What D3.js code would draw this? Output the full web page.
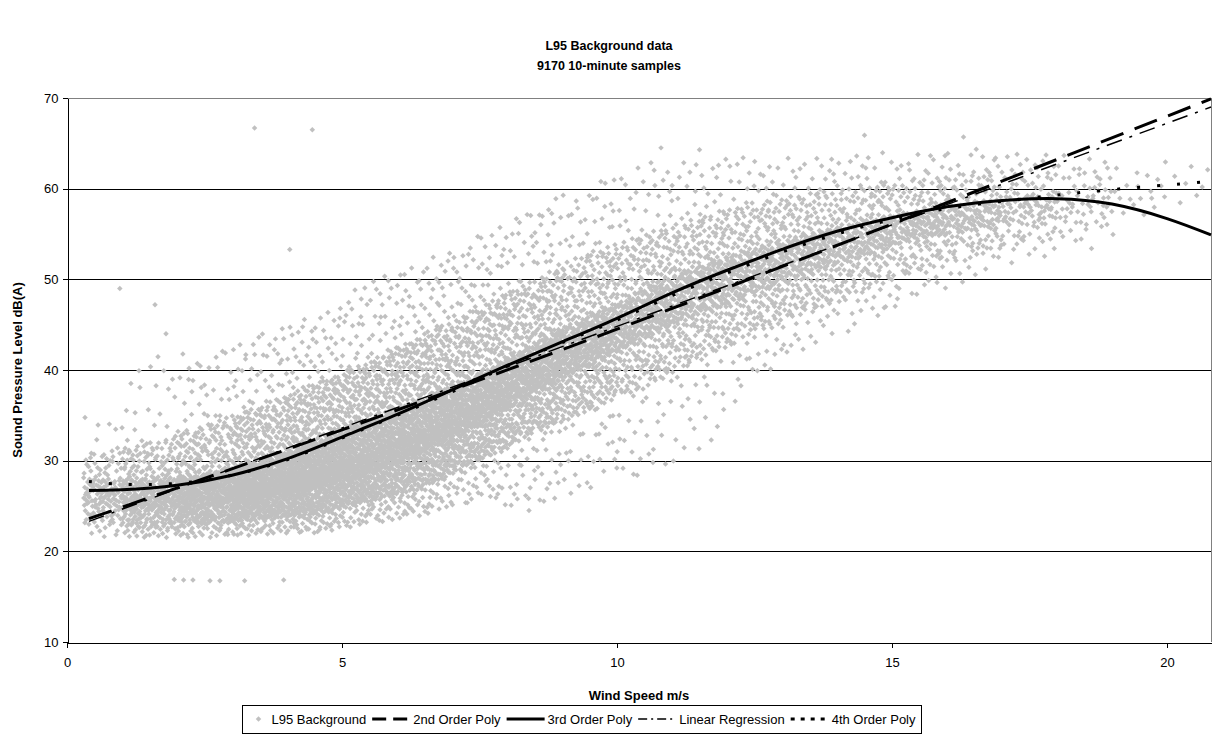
<!DOCTYPE html>
<html>
<head>
<meta charset="utf-8">
<title>L95 Background data</title>
<script src="https://cdn.jsdelivr.net/npm/d3@7"></script>
<style>
body { margin: 0; background: #fff; }
svg { font-family: "Liberation Sans", Arial, sans-serif; }
.axis path, .axis line { stroke: #000; shape-rendering: crispEdges; }
.axis text { font-size: 13px; fill: #000; }
.grid line { stroke: #000; stroke-width: 1; shape-rendering: crispEdges; }
.title { font-size: 12.5px; font-weight: bold; }
.axis-title { font-size: 13px; font-weight: bold; }
.legend text { font-size: 13px; }
</style>
</head>
<body>
<svg width="1218" height="753"></svg>
<script>

// wind speed bins (m/s) and the number of 10-minute samples in each
var binEdges = [0.3, 1, 2, 3, 4, 5, 6, 7, 8, 9, 10, 11, 12, 13, 14, 15, 16, 17, 18, 19, 20, 20.8];
var binCounts = [150, 400, 600, 800, 900, 900, 900, 850, 750, 600, 500, 450, 400, 350, 300, 250, 200, 130, 70, 20, 7];
// SPL spread per bin: min, 5%, 25%, median, 75%, 95%, max
var quantileLevels = [0, 0.05, 0.25, 0.5, 0.75, 0.95, 1];
var binQuantiles = [
  [21.5, 23.0, 25.0, 26.5, 28.0, 31.0, 36.0],
  [21.5, 22.5, 24.5, 26.0, 28.0, 32.0, 42.0],
  [21.5, 23.0, 25.0, 26.8, 28.5, 34.0, 42.0],
  [21.8, 23.5, 25.8, 27.5, 30.0, 36.0, 44.0],
  [22.0, 24.0, 27.0, 29.0, 32.0, 38.5, 46.0],
  [23.0, 25.5, 28.5, 31.0, 34.5, 41.0, 50.0],
  [24.0, 27.0, 31.0, 33.5, 37.0, 44.0, 52.0],
  [25.5, 30.0, 34.0, 36.5, 39.5, 47.0, 55.0],
  [24.5, 33.0, 37.5, 40.0, 43.0, 50.0, 58.0],
  [27.0, 35.5, 40.5, 43.0, 46.0, 53.0, 60.5],
  [28.5, 38.0, 43.5, 46.0, 49.0, 55.0, 63.0],
  [30.0, 41.0, 46.0, 49.0, 51.5, 57.0, 63.5],
  [39.0, 44.0, 48.5, 51.0, 53.5, 58.5, 63.5],
  [42.5, 46.5, 50.5, 53.0, 55.0, 59.5, 63.5],
  [45.0, 48.5, 52.5, 54.5, 56.5, 60.5, 64.0],
  [48.0, 51.0, 54.5, 56.0, 57.5, 61.0, 64.0],
  [50.0, 52.5, 55.5, 57.0, 58.5, 62.0, 64.5],
  [52.0, 54.0, 56.5, 58.0, 59.5, 62.5, 64.0],
  [53.0, 55.0, 57.0, 58.5, 60.0, 62.5, 63.5],
  [56.0, 57.0, 58.5, 59.5, 61.0, 63.0, 64.0],
  [58.0, 58.5, 59.5, 60.5, 61.5, 62.5, 63.0]
];
// isolated samples away from the cloud
var outliers = [
  [3.41, 66.7], [4.46, 66.5], [4.05, 53.3], [0.96, 49.0], [1.6, 47.2], [1.8, 44.0],
  [1.95, 16.9], [2.12, 16.85], [2.29, 16.85], [2.6, 16.75], [2.78, 16.75], [3.23, 16.75], [3.94, 16.85],
  [10.8, 64.5], [11.5, 64.3], [14.5, 65.9], [16.3, 65.7], [8.4, 24.5], [10.3, 28.5]
];

// trend lines
var trendSpeeds = [0.4, 1, 2, 3, 4, 5, 6, 7, 8, 9, 10, 11, 12, 13, 14, 15, 16, 17, 18, 19, 20, 20.8];
var poly3 = [26.7, 26.8, 27.3, 28.4, 30.2, 32.6, 35.1, 37.8, 40.5, 43.1, 45.7, 48.5, 51.0, 53.3, 55.3, 56.8, 58.0, 58.7, 58.9, 58.3, 56.7, 54.9];
var poly4 = [27.7, 27.4, 27.5, 28.4, 30.1, 32.5, 35.0, 37.6, 40.4, 43.0, 45.5, 48.2, 50.7, 53.0, 55.0, 56.6, 57.8, 58.6, 59.3, 59.9, 60.4, 60.8];
var poly2Speeds = [0.4, 5, 10, 15, 20.8];
var poly2 = [23.6, 33.4, 44.5, 56.1, 69.9];
var linearSpeeds = [0.4, 20.8];
var linear = [23.3, 69.0];

var xTicks = [0, 5, 10, 15, 20];
var yTicks = [10, 20, 30, 40, 50, 60, 70];

var svg = d3.select("svg"),
    plot = { left: 67, right: 1211, top: 98, bottom: 642 };

var x = d3.scaleLinear().domain([0, 20.8]).range([plot.left, plot.right]);
var y = d3.scaleLinear().domain([10, 70]).range([plot.bottom, plot.top]);

// gridlines
svg.append("g").attr("class", "grid")
  .selectAll("line")
  .data(yTicks.filter(function(d) { return d > 10 && d < 70; }))
  .enter().append("line")
    .attr("x1", plot.left).attr("x2", plot.right)
    .attr("y1", function(d) { return Math.round(y(d)) + 0.5; })
    .attr("y2", function(d) { return Math.round(y(d)) + 0.5; });

// plot area border (top / right)
svg.append("path")
  .attr("d", "M" + plot.left + "," + (plot.top + 0.5) + "H" + (plot.right + 0.5) + "V" + plot.bottom)
  .attr("fill", "none").attr("stroke", "#808080").attr("shape-rendering", "crispEdges");

// scatter: place samples inside each bin following the read-off spread
function halton(i, b) {
  var f = 1, r = 0;
  while (i > 0) { f /= b; r += f * (i % b); i = Math.floor(i / b); }
  return r;
}
var centers = binEdges.slice(0, -1).map(function(e, i) { return (e + binEdges[i + 1]) / 2; });
function profileAt(sp) {
  var i = d3.bisectRight(centers, sp) - 1;
  if (i < 0) return binQuantiles[0];
  if (i >= centers.length - 1) return binQuantiles[centers.length - 1];
  var w = (sp - centers[i]) / (centers[i + 1] - centers[i]);
  return binQuantiles[i].map(function(q, k) { return q * (1 - w) + binQuantiles[i + 1][k] * w; });
}
var samples = [], n = 0;
binCounts.forEach(function(c, b) {
  for (var j = 0; j < c; j++) {
    n++;
    var sp = binEdges[b] + halton(n, 2) * (binEdges[b + 1] - binEdges[b]);
    var q = d3.scaleLinear().domain(quantileLevels).range(profileAt(sp));
    samples.push([sp, q(halton(n, 3))]);
  }
});
samples = samples.concat(outliers);

var diamond = d3.symbol(d3.symbolSquare, 15)();
svg.append("g")
  .selectAll("path")
  .data(samples)
  .enter().append("path")
    .attr("d", diamond)
    .attr("fill", "#c0c0c0")
    .attr("transform", function(d) { return "translate(" + x(d[0]) + "," + y(d[1]) + ") rotate(45)"; });

// trend lines
var line = d3.line()
  .x(function(d) { return x(d[0]); })
  .y(function(d) { return y(d[1]); })
  .curve(d3.curveNatural);

var trends = [
  { name: "2nd Order Poly", xs: poly2Speeds, ys: poly2, width: 3, dash: "24,12", legendDash: "14,7" },
  { name: "3rd Order Poly", xs: trendSpeeds, ys: poly3, width: 3, dash: null, legendDash: null },
  { name: "Linear Regression", xs: linearSpeeds, ys: linear, width: 1.5, dash: "16,8,3,8", legendDash: "9,4,2,4" },
  { name: "4th Order Poly", xs: trendSpeeds, ys: poly4, width: 3, dash: "3,17", legendDash: "4,6" }
];

trends.forEach(function(t) {
  svg.append("path")
    .datum(t.xs.map(function(v, i) { return [v, t.ys[i]]; }))
    .attr("d", line)
    .attr("fill", "none")
    .attr("stroke", "#000")
    .attr("stroke-width", t.width)
    .attr("stroke-dasharray", t.dash);
});

// axes
svg.append("g").attr("class", "axis")
  .attr("transform", "translate(" + (plot.left + 0.5) + ",0)")
  .call(d3.axisLeft(y).tickValues(yTicks).tickSize(5).tickSizeOuter(0).tickPadding(4));

svg.append("g").attr("class", "axis")
  .attr("transform", "translate(0," + (plot.bottom + 0.5) + ")")
  .call(d3.axisBottom(x).tickValues(xTicks).tickSize(5).tickSizeOuter(0).tickPadding(10));

// titles
svg.append("text").attr("class", "title")
  .attr("x", 609).attr("y", 50).attr("text-anchor", "middle")
  .text("L95 Background data");
svg.append("text").attr("class", "title")
  .attr("x", 609).attr("y", 70).attr("text-anchor", "middle")
  .text("9170 10-minute samples");

svg.append("text").attr("class", "axis-title")
  .attr("x", (plot.left + plot.right) / 2).attr("y", 700).attr("text-anchor", "middle")
  .text("Wind Speed m/s");

svg.append("text").attr("class", "axis-title")
  .attr("transform", "translate(22," + (plot.top + plot.bottom) / 2 + ") rotate(-90)")
  .attr("text-anchor", "middle")
  .text("Sound Pressure Level dB(A)");

// legend
var legend = svg.append("g").attr("class", "legend");
var box = legend.append("rect")
  .attr("fill", "#fff").attr("stroke", "#000").attr("shape-rendering", "crispEdges");
var items = [{ name: "L95 Background", marker: true }].concat(trends);
var cx = 6, ly = 719;
var itemsG = legend.append("g");
items.forEach(function(it) {
  var sw = it.marker ? 20 : 38;
  if (it.marker) {
    itemsG.append("path").attr("d", diamond).attr("fill", "#c0c0c0")
      .attr("transform", "translate(" + (cx + sw / 2) + "," + ly + ") rotate(45)");
  } else {
    itemsG.append("line")
      .attr("x1", cx).attr("x2", cx + sw).attr("y1", ly).attr("y2", ly)
      .attr("stroke", "#000").attr("stroke-width", it.width)
      .attr("stroke-dasharray", it.legendDash);
  }
  var t = itemsG.append("text").attr("x", cx + sw + 3).attr("y", ly + 4.5).text(it.name);
  cx += sw + 3 + t.node().getComputedTextLength() + 6;
});
var legendW = cx, legendX = 582 - legendW / 2;
itemsG.attr("transform", "translate(" + legendX + ",0)");
box.attr("x", Math.round(legendX) + 0.5).attr("y", 705.5).attr("width", Math.round(legendW)).attr("height", 28);

</script>
</body>
</html>
